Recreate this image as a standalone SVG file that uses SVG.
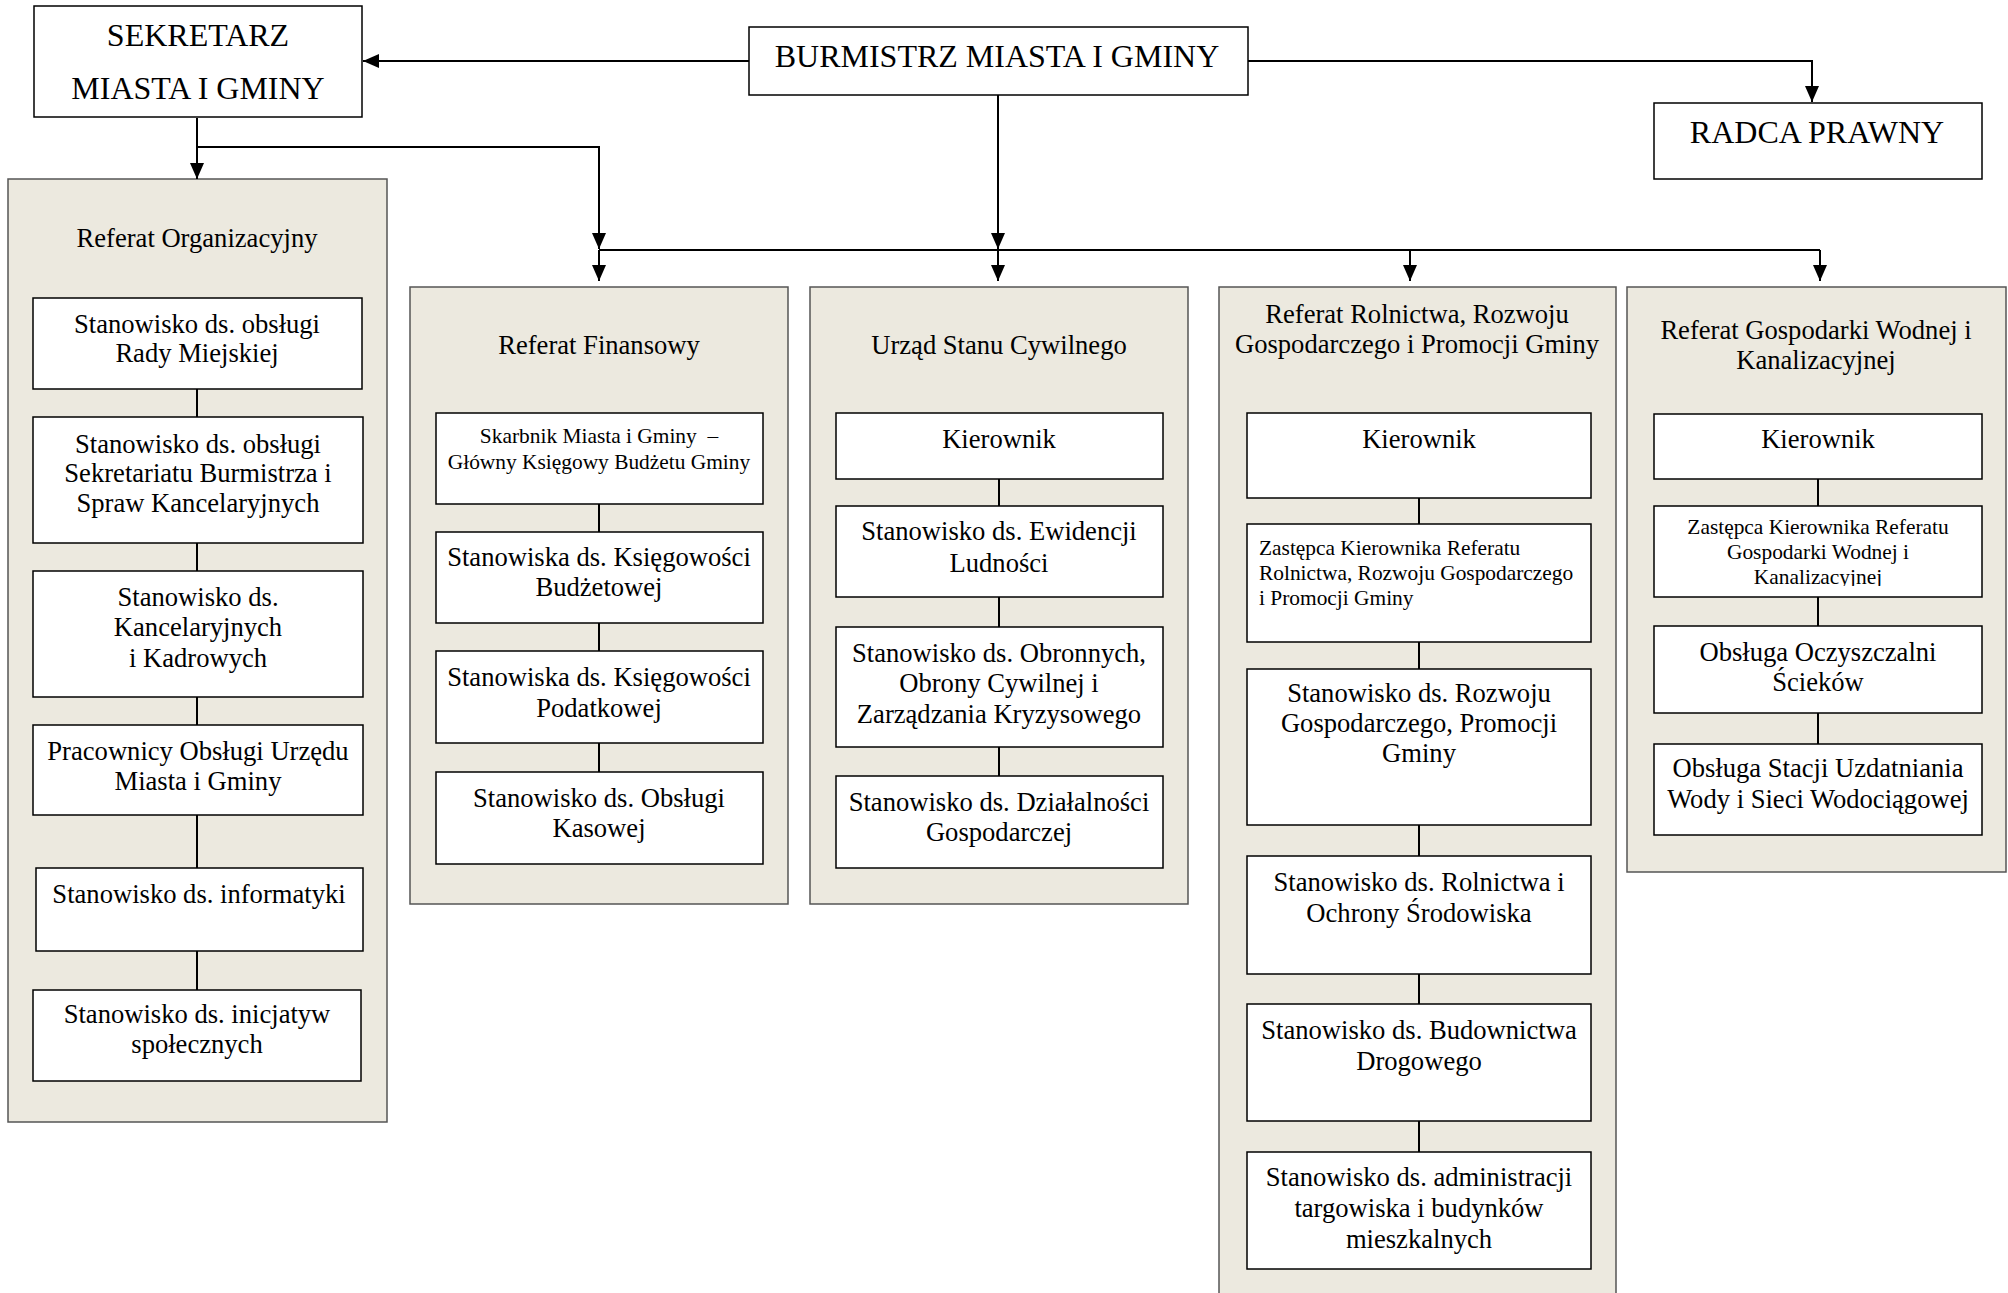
<svg xmlns="http://www.w3.org/2000/svg" width="2008" height="1293" viewBox="0 0 2008 1293">
<style>
.box{fill:#fff;stroke:#000;stroke-width:1.5}
.cont{fill:#ECE9DF;stroke:#555;stroke-width:1.5}
.t{font-family:"Liberation Serif","Times New Roman",serif;font-size:26.6px;text-anchor:middle;fill:#000}
.big{font-size:32px}
.sm{font-size:21.4px}
.l{text-anchor:start}
.conn{stroke:#000;stroke-width:2;fill:none}
.arr{marker-end:url(#ah)}
</style>
<defs>
<marker id="ah" markerUnits="userSpaceOnUse" markerWidth="16" markerHeight="14" refX="16" refY="7" orient="auto">
<path d="M0,0 L16,7 L0,14 z" fill="#000"/>
</marker>
<clipPath id="clipZW"><rect x="1654" y="506" width="328" height="80"/></clipPath>
</defs>

<rect width="2008" height="1293" fill="#fff"/>

<!-- containers -->
<g id="ref-org"><rect class="cont" x="8" y="179" width="379" height="943"/><text class="t" x="197" y="247">Referat Organizacyjny</text></g>
<g id="ref-fin"><rect class="cont" x="410" y="287" width="378" height="617"/><text class="t" x="599" y="354">Referat Finansowy</text></g>
<g id="usc"><rect class="cont" x="810" y="287" width="378" height="617"/><text class="t" x="999" y="354">Urząd Stanu Cywilnego</text></g>
<g id="ref-rol"><rect class="cont" x="1219" y="287" width="397" height="1020"/><text class="t" x="1417" y="323">Referat Rolnictwa, Rozwoju</text><text class="t" x="1417" y="353">Gospodarczego i Promocji Gminy</text></g>
<g id="ref-wod"><rect class="cont" x="1627" y="287" width="379" height="585"/><text class="t" x="1816" y="339">Referat Gospodarki Wodnej i</text><text class="t" x="1816" y="369">Kanalizacyjnej</text></g>

<!-- connectors -->
<g id="connectors">
<path class="conn arr" d="M749,61 H363"/>
<path class="conn arr" d="M1248,61 H1812 V102"/>
<path class="conn arr" d="M998,95 V249"/>
<path class="conn arr" d="M197,118 V179"/>
<path class="conn arr" d="M197,147 H599 V249"/>
<path class="conn" d="M599,250 H1820"/>
<path class="conn arr" d="M599,250 V281"/>
<path class="conn arr" d="M998,250 V281"/>
<path class="conn arr" d="M1410,250 V281"/>
<path class="conn arr" d="M1820,250 V281"/>
<path class="conn" d="M197,389 V417 M197,543 V571 M197,697 V725 M197,815 V868 M197,951 V990"/>
<path class="conn" d="M599,504 V532 M599,623 V651 M599,743 V772"/>
<path class="conn" d="M999,479 V506 M999,597 V627 M999,747 V776"/>
<path class="conn" d="M1419,498 V524 M1419,642 V669 M1419,825 V856 M1419,974 V1004 M1419,1121 V1152"/>
<path class="conn" d="M1818,479 V506 M1818,597 V626 M1818,713 V744"/>
</g>

<!-- top nodes -->
<g id="sekretarz"><rect class="box" x="34" y="6" width="328" height="111"/><text class="t big" x="198" y="46">SEKRETARZ</text><text class="t big" x="198" y="99">MIASTA I GMINY</text></g>
<g id="burmistrz"><rect class="box" x="749" y="27" width="499" height="68"/><text class="t big" x="997" y="67">BURMISTRZ MIASTA I GMINY</text></g>
<g id="radca"><rect class="box" x="1654" y="103" width="328" height="76"/><text class="t big" x="1817" y="143">RADCA PRAWNY</text></g>

<!-- Referat Organizacyjny -->
<g id="org-1"><rect class="box" x="33" y="298" width="329" height="91"/><text class="t" x="197" y="333">Stanowisko ds. obsługi</text><text class="t" x="197" y="362">Rady Miejskiej</text></g>
<g id="org-2"><rect class="box" x="33" y="417" width="330" height="126"/><text class="t" x="198" y="453">Stanowisko ds. obsługi</text><text class="t" x="198" y="482">Sekretariatu Burmistrza i</text><text class="t" x="198" y="512">Spraw Kancelaryjnych</text></g>
<g id="org-3"><rect class="box" x="33" y="571" width="330" height="126"/><text class="t" x="198" y="606">Stanowisko ds.</text><text class="t" x="198" y="636">Kancelaryjnych</text><text class="t" x="198" y="667">i Kadrowych</text></g>
<g id="org-4"><rect class="box" x="33" y="725" width="330" height="90"/><text class="t" x="198" y="760">Pracownicy Obsługi Urzędu</text><text class="t" x="198" y="790">Miasta i Gminy</text></g>
<g id="org-5"><rect class="box" x="36" y="868" width="327" height="83"/><text class="t" x="199" y="903">Stanowisko ds. informatyki</text></g>
<g id="org-6"><rect class="box" x="33" y="990" width="328" height="91"/><text class="t" x="197" y="1023">Stanowisko ds. inicjatyw</text><text class="t" x="197" y="1053">społecznych</text></g>

<!-- Referat Finansowy -->
<g id="fin-1"><rect class="box" x="436" y="413" width="327" height="91"/><text class="t sm" x="599" y="443">Skarbnik Miasta i Gminy &#160;–</text><text class="t sm" x="599" y="469">Główny Księgowy Budżetu Gminy</text></g>
<g id="fin-2"><rect class="box" x="436" y="532" width="327" height="91"/><text class="t" x="599" y="566">Stanowiska ds. Księgowości</text><text class="t" x="599" y="596">Budżetowej</text></g>
<g id="fin-3"><rect class="box" x="436" y="651" width="327" height="92"/><text class="t" x="599" y="686">Stanowiska ds. Księgowości</text><text class="t" x="599" y="717">Podatkowej</text></g>
<g id="fin-4"><rect class="box" x="436" y="772" width="327" height="92"/><text class="t" x="599" y="807">Stanowisko ds. Obsługi</text><text class="t" x="599" y="837">Kasowej</text></g>

<!-- USC -->
<g id="usc-1"><rect class="box" x="836" y="413" width="327" height="66"/><text class="t" x="999" y="448">Kierownik</text></g>
<g id="usc-2"><rect class="box" x="836" y="506" width="327" height="91"/><text class="t" x="999" y="540">Stanowisko ds. Ewidencji</text><text class="t" x="999" y="572">Ludności</text></g>
<g id="usc-3"><rect class="box" x="836" y="627" width="327" height="120"/><text class="t" x="999" y="662">Stanowisko ds. Obronnych,</text><text class="t" x="999" y="692">Obrony Cywilnej i</text><text class="t" x="999" y="723">Zarządzania Kryzysowego</text></g>
<g id="usc-4"><rect class="box" x="836" y="776" width="327" height="92"/><text class="t" x="999" y="811">Stanowisko ds. Działalności</text><text class="t" x="999" y="841">Gospodarczej</text></g>

<!-- Referat Rolnictwa -->
<g id="rol-1"><rect class="box" x="1247" y="413" width="344" height="85"/><text class="t" x="1419" y="448">Kierownik</text></g>
<g id="rol-2"><rect class="box" x="1247" y="524" width="344" height="118"/><text class="t sm l" x="1259" y="555">Zastępca Kierownika Referatu</text><text class="t sm l" x="1259" y="580">Rolnictwa, Rozwoju Gospodarczego</text><text class="t sm l" x="1259" y="605">i Promocji Gminy</text></g>
<g id="rol-3"><rect class="box" x="1247" y="669" width="344" height="156"/><text class="t" x="1419" y="702">Stanowisko ds. Rozwoju</text><text class="t" x="1419" y="732">Gospodarczego, Promocji</text><text class="t" x="1419" y="762">Gminy</text></g>
<g id="rol-4"><rect class="box" x="1247" y="856" width="344" height="118"/><text class="t" x="1419" y="891">Stanowisko ds. Rolnictwa i</text><text class="t" x="1419" y="922">Ochrony Środowiska</text></g>
<g id="rol-5"><rect class="box" x="1247" y="1004" width="344" height="117"/><text class="t" x="1419" y="1039">Stanowisko ds. Budownictwa</text><text class="t" x="1419" y="1070">Drogowego</text></g>
<g id="rol-6"><rect class="box" x="1247" y="1152" width="344" height="117"/><text class="t" x="1419" y="1186">Stanowisko ds. administracji</text><text class="t" x="1419" y="1217">targowiska i budynków</text><text class="t" x="1419" y="1248">mieszkalnych</text></g>

<!-- Referat Gospodarki Wodnej -->
<g id="wod-1"><rect class="box" x="1654" y="414" width="328" height="65"/><text class="t" x="1818" y="448">Kierownik</text></g>
<g id="wod-2"><rect class="box" x="1654" y="506" width="328" height="91"/><g clip-path="url(#clipZW)"><text class="t sm" x="1818" y="534">Zastępca Kierownika Referatu</text><text class="t sm" x="1818" y="559">Gospodarki Wodnej i</text><text class="t sm" x="1818" y="584">Kanalizacyjnej</text></g></g>
<g id="wod-3"><rect class="box" x="1654" y="626" width="328" height="87"/><text class="t" x="1818" y="661">Obsługa Oczyszczalni</text><text class="t" x="1818" y="691">Ścieków</text></g>
<g id="wod-4"><rect class="box" x="1654" y="744" width="328" height="91"/><text class="t" x="1818" y="777">Obsługa Stacji Uzdatniania</text><text class="t" x="1818" y="808">Wody i Sieci Wodociągowej</text></g>
</svg>
